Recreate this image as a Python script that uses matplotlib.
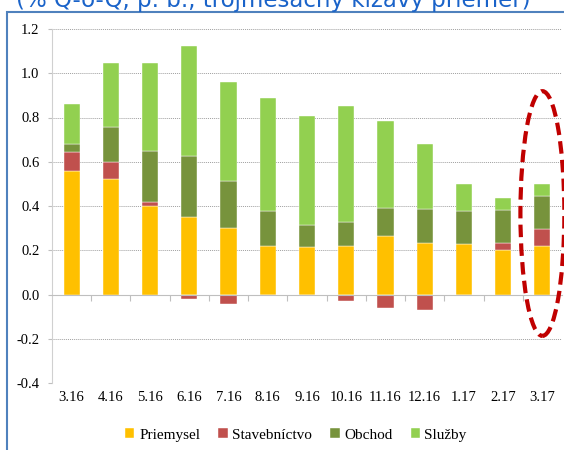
import numpy as np
import matplotlib.pyplot as plt
from matplotlib.patches import Ellipse, Rectangle

months = ['3.16', '4.16', '5.16', '6.16', '7.16', '8.16', '9.16',
          '10.16', '11.16', '12.16', '1.17', '2.17', '3.17']
priemysel = [0.557, 0.521, 0.402, 0.351, 0.302, 0.221, 0.215, 0.220, 0.264, 0.233, 0.226, 0.203, 0.220]
stavebnictvo = [0.087, 0.077, 0.015, -0.021, -0.043, -0.009, -0.008, -0.031, -0.062, -0.071, -0.004, 0.030, 0.077]
obchod = [0.036, 0.159, 0.230, 0.277, 0.213, 0.157, 0.098, 0.108, 0.129, 0.155, 0.152, 0.149, 0.150]
sluzby = [0.182, 0.288, 0.398, 0.496, 0.444, 0.510, 0.495, 0.524, 0.391, 0.292, 0.123, 0.056, 0.051]

series = [('Priemysel', priemysel, '#FFC000'),
          ('Stavebníctvo', stavebnictvo, '#C0504D'),
          ('Obchod', obchod, '#77933C'),
          ('Služby', sluzby, '#92D050')]

plt.rcParams['font.family'] = ['Liberation Serif', 'DejaVu Serif']

fig = plt.figure(figsize=(5.64, 4.5), dpi=100)
ax = fig.add_axes([52/564, 1-383/450, 510/564, (383-29)/450])

x = np.arange(len(months))
pos = np.zeros(len(months))
neg = np.zeros(len(months))
for name, vals, col in series:
    v = np.array(vals)
    bottom = np.where(v >= 0, pos, neg)
    ax.bar(x, v, 0.41, bottom=bottom, color=col, label=name,
           edgecolor='white', linewidth=0.3, zorder=3)
    pos = pos + np.where(v >= 0, v, 0)
    neg = neg + np.where(v < 0, v, 0)

ax.set_xlim(-0.5, len(months) - 0.5)
ax.set_ylim(-0.4, 1.2)
ax.set_yticks(np.arange(-0.4, 1.21, 0.2))
ax.set_yticklabels([f'{t:.1f}' for t in np.arange(-0.4, 1.21, 0.2)], fontsize=10.5)
ax.yaxis.grid(True, linestyle=(0, (1, 1)), color='#a0a0a0', linewidth=0.7, zorder=0)
ax.tick_params(axis='y', length=3, color='#bfbfbf', pad=6)

for s in ['top', 'right']:
    ax.spines[s].set_visible(False)
ax.spines['left'].set_color('#d0d0d0')
ax.spines['bottom'].set_position(('data', 0))
ax.spines['bottom'].set_color('#bfbfbf')
ax.spines['bottom'].set_zorder(4)
ax.set_xticks(x[:-1] + 0.5)
ax.set_xticklabels([])
ax.tick_params(axis='x', length=4, color='#bfbfbf', direction='out')

sec = ax.secondary_xaxis('bottom')
sec.set_xticks(x)
sec.set_xticklabels(months, fontsize=10.5)
sec.tick_params(length=0, pad=6)
sec.spines['bottom'].set_visible(False)

ell = Ellipse((12, 0.366), 1.12, 1.106, fill=False, edgecolor='#C00000',
              linewidth=3, linestyle=(0, (3, 1.5)), clip_on=False, zorder=5)
ax.add_patch(ell)

ax.legend(loc='center', bbox_to_anchor=(296/564, 1-435/450), bbox_transform=fig.transFigure,
          ncol=4, frameon=False, fontsize=11, handlelength=0.6, handleheight=0.6,
          handletextpad=0.3, columnspacing=1.2)

fig.patches.append(Rectangle((7/564, -0.1), 1.2, 1.1 - 12/450,
                             transform=fig.transFigure, fill=False,
                             edgecolor='#4F81BD', linewidth=1.5))
fig.text(0.485, 1-7/450, '(% Q-o-Q, p. b., trojmesačný kĺzavý priemer)',
         ha='center', va='baseline', fontsize=16.5, color='#1a63c9',
         family=['DejaVu Sans'])

fig.savefig('out.png', dpi=100)
